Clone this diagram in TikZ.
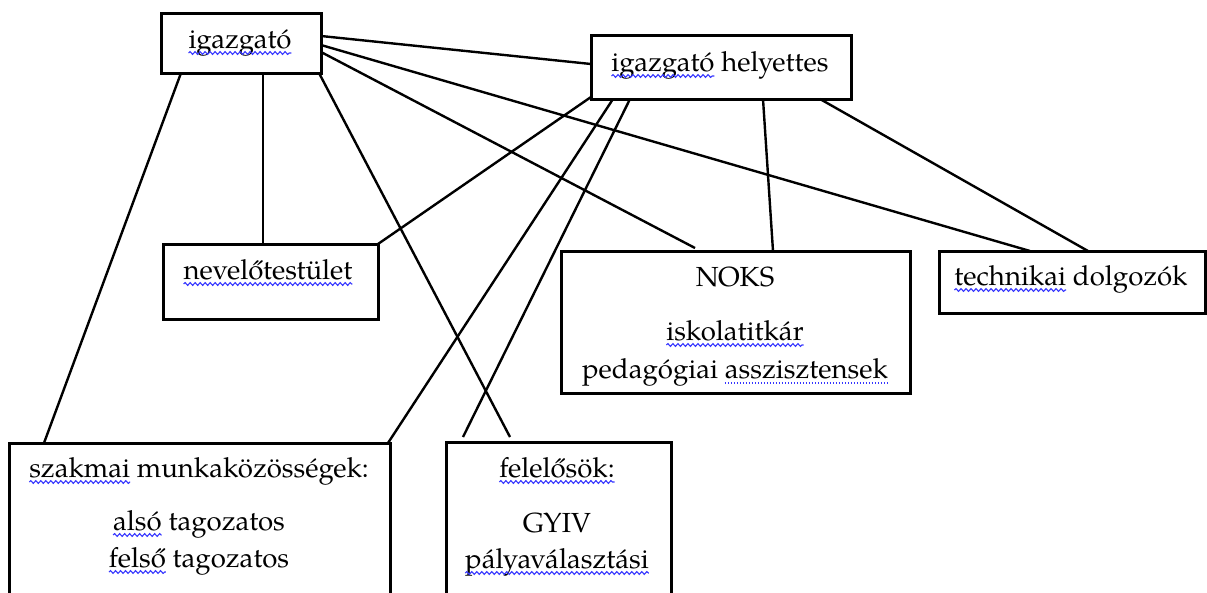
\documentclass[tikz,border=0pt]{standalone}
\usepackage{fontspec}
\setmainfont{texgyrepagella-regular.otf}
\usetikzlibrary{calc,decorations.pathmorphing}
\definecolor{wavblue}{RGB}{55,55,255}
\tikzset{
  box/.style={draw, line width=3pt, outer sep=0pt, inner sep=0pt, fill=white},
  txt/.style={anchor=base, inner sep=0pt, outer sep=0pt, font=\fontsize{27.6}{33}\selectfont},
  ph/.style={txt, anchor=base west},
  phe/.style={txt, anchor=base east},
  conn/.style={line width=2.4pt},
  wave/.style={draw=wavblue, line width=1.1pt, decorate, decoration={snake, segment length=5pt, amplitude=1.4pt}},
  dotl/.style={draw=wavblue, line width=1.2pt, dash pattern=on 1.2pt off 1.8pt},
}
\newcommand\wv[1]{\draw[wave] ($(#1.base west)+(0,5)$) -- ($(#1.base east)+(0,5)$);}
\begin{document}
\begin{tikzpicture}[x=1pt,y=-1pt]
\useasboundingbox (0,0) rectangle (1207,592);
\clip (0,0) rectangle (1207,592);
% boxes
\node[box, minimum width=160pt, minimum height=60pt] (igaz) at (241,43) {};
\node[box, minimum width=260pt, minimum height=64pt] (hely) at (721,67) {};
\node[box, minimum width=215pt, minimum height=75pt] (nevelo) at (270.5,281.5) {};
\node[box, minimum width=349pt, minimum height=142pt] (noks) at (735.5,322) {};
\node[box, minimum width=266pt, minimum height=62pt] (tech) at (1072,282) {};
\node[box, minimum width=381pt, minimum height=197pt] (szak) at (199.5,541.5) {};
\node[box, minimum width=225pt, minimum height=198pt] (fel) at (558.5,541) {};
% connectors from igazgató
\draw[conn] ($(igaz.north east)+(0,23)$) -- ($(hely.north west)+(0,29)$);
\draw[conn] ($(igaz.north east)+(0,32)$) -- ($(tech.north west)+(91,0)$);
\draw[conn] ($(igaz.north east)+(0,39)$) -- ($(noks.north west)+(134,-3)$);
\draw[conn] ($(igaz.south east)+(-2,0)$) -- ($(fel.north west)+(64,-5)$);
\draw[conn] ($(igaz.south west)+(102,0)$) -- ($(nevelo.north west)+(100,0)$);
\draw[conn] ($(igaz.south west)+(20,0)$) -- ($(szak.north west)+(35,0)$);
% connectors from igazgató helyettes
\draw[conn] ($(hely.south west)+(0,-2)$) -- (nevelo.north east);
\draw[conn] ($(hely.south west)+(22,0)$) -- ($(szak.north east)+(-2,0)$);
\draw[conn] ($(hely.south west)+(39,0)$) -- ($(fel.north west)+(17,-5)$);
\draw[conn] ($(hely.south west)+(172,0)$) -- ($(noks.north west)+(212,0)$);
\draw[conn] ($(hely.south west)+(229,0)$) -- ($(tech.north west)+(149,0)$);
% texts
\node[txt] (t1) at (240,48) {igazgató};
\node[txt] (t2) at (720,71) {igazgató helyettes};
\node[txt] (t3) at (268,279) {nevelőtestület};
\node[txt] (t4) at (735,286) {NOKS};
\node[txt] (t5) at (735,340) {iskolatitkár};
\node[txt] (t6) at (735,378) {pedagógiai asszisztensek};
\node[txt] (t7) at (1071,285) {technikai dolgozók};
\node[txt] (t8) at (199,477) {szakmai munkaközösségek:};
\node[txt] (t9) at (199,530) {alsó tagozatos};
\node[txt] (t10) at (199,567) {felső tagozatos};
\node[txt] (t11) at (557,477) {felelősök:};
\node[txt] (t12) at (557,532) {GYIV};
\node[txt] (t13) at (557,568) {pályaválasztási};
% spell-check underlines
\node[ph] (u2) at (t2.base west) {\phantom{igazgató}};
\node[phe] (u6) at (t6.base east) {\phantom{asszisztensek}};
\node[ph] (u7) at (t7.base west) {\phantom{technikai}};
\node[ph] (u8) at (t8.base west) {\phantom{szakmai}};
\node[ph] (u9) at (t9.base west) {\phantom{alsó}};
\node[ph] (u10) at (t10.base west) {\phantom{felső}};
\wv{t1}\wv{u2}\wv{t3}\wv{t5}\wv{u7}\wv{u8}\wv{u9}\wv{u10}\wv{t11}\wv{t13}
\draw[dotl] ($(u6.base west)+(0,5)$) -- ($(u6.base east)+(0,5)$);
\end{tikzpicture}
\end{document}
